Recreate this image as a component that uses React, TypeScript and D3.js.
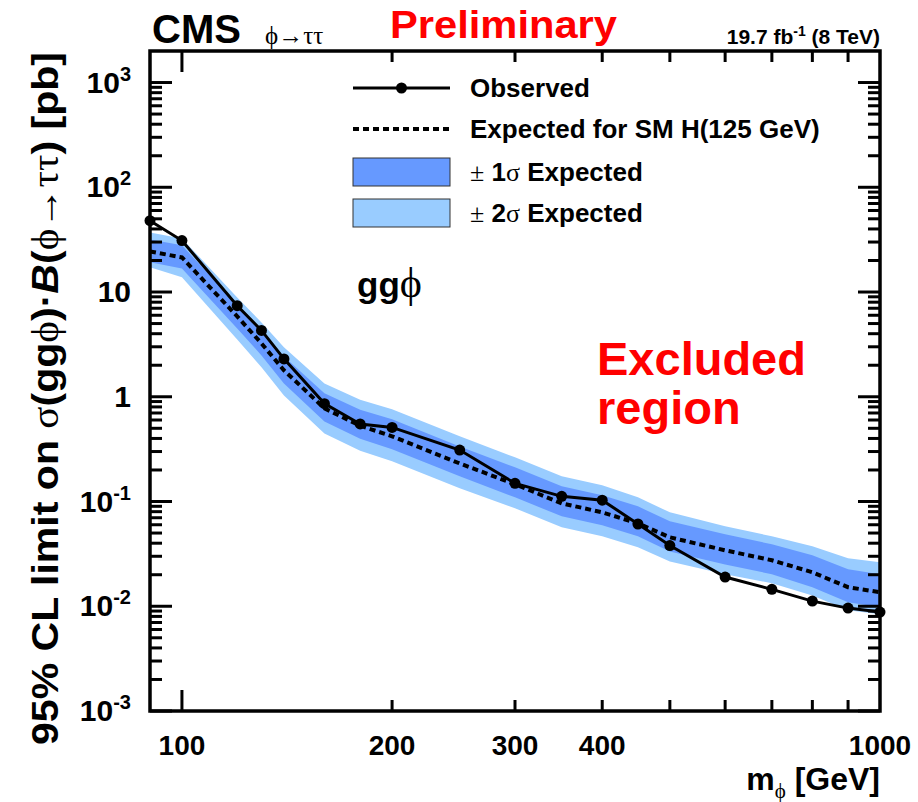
import React, { useEffect, useRef } from "react";
import * as d3 from "d3";

const masses = [90, 100, 120, 130, 140, 160, 180, 200, 250, 300, 350, 400, 450, 500, 600, 700, 800, 900, 1000];
const observed = [48, 31, 7.4, 4.3, 2.3, 0.86, 0.55, 0.51, 0.31, 0.149, 0.112, 0.103, 0.061, 0.038, 0.019, 0.0145, 0.0112, 0.0096, 0.0088];
const expected = [24.4, 21.4, 5.85, 3.23, 1.79, 0.775, 0.53, 0.419, 0.231, 0.146, 0.0961, 0.0788, 0.0619, 0.0455, 0.0342, 0.0275, 0.0211, 0.0152, 0.0136];
const plus2 = [37.0, 32.5, 8.88, 5.12, 2.97, 1.34, 0.939, 0.758, 0.419, 0.264, 0.174, 0.1426, 0.1096, 0.0788, 0.0579, 0.0466, 0.0374, 0.0287, 0.0263];
const plus1 = [31.8, 27.9, 7.62, 4.3, 2.43, 1.08, 0.753, 0.609, 0.336, 0.212, 0.1396, 0.1145, 0.0899, 0.0647, 0.0486, 0.0391, 0.0307, 0.0226, 0.0202];
const minus1 = [19.2, 16.8, 4.49, 2.48, 1.34, 0.582, 0.398, 0.315, 0.174, 0.1096, 0.0722, 0.0592, 0.0465, 0.0334, 0.0251, 0.0202, 0.0152, 0.0109, 0.00978];
const minus2 = [17.2, 13.8, 3.53, 1.91, 1.03, 0.447, 0.306, 0.242, 0.1335, 0.0861, 0.0567, 0.0465, 0.0365, 0.0268, 0.0202, 0.0166, 0.0127, 0.00917, 0.00839];

const xTickLabels = [100, 200, 300, 400, 1000];
const xMinorTicks = [200, 300, 400, 500, 600, 700, 800, 900];
const yDecades = [-3, -2, -1, 0, 1, 2, 3];

const W = 918;
const H = 802;
const frame = { left: 150, right: 880, top: 51, bottom: 711 };
const font = "'Liberation Sans', Arial, Helvetica, sans-serif";
const symFont = "'Liberation Serif', 'DejaVu Serif', serif";

export default function App() {
  const ref = useRef<SVGSVGElement>(null);

  useEffect(() => {
    const svg = d3.select(ref.current);
    svg.selectAll("*").remove();

    const x = d3.scaleLog().domain([90, 1000]).range([frame.left, frame.right]);
    const y = d3.scaleLog().domain([1e-3, 2e3]).range([frame.bottom, frame.top]);

    svg.append("defs").append("clipPath").attr("id", "frameclip")
      .append("rect").attr("x", frame.left).attr("y", frame.top)
      .attr("width", frame.right - frame.left).attr("height", frame.bottom - frame.top);

    const plot = svg.append("g").attr("clip-path", "url(#frameclip)");

    const band = (hi: number[], lo: number[]) =>
      d3.area<number>().x((d) => x(d)).y0((d, i) => y(lo[i])).y1((d, i) => y(hi[i]));

    plot.append("path").datum(masses).attr("d", band(plus2, minus2)).attr("fill", "#99ccff");
    plot.append("path").datum(masses).attr("d", band(plus1, minus1)).attr("fill", "#6699ff");

    const line = (vals: number[]) => d3.line<number>().x((d) => x(d)).y((d, i) => y(vals[i]));

    plot.append("path").datum(masses).attr("d", line(expected))
      .attr("fill", "none").attr("stroke", "#000").attr("stroke-width", 4).attr("stroke-dasharray", "6,4");

    svg.append("path").datum(masses).attr("d", line(observed))
      .attr("fill", "none").attr("stroke", "#000").attr("stroke-width", 3);

    svg.selectAll(".obs").data(masses).join("circle").attr("class", "obs")
      .attr("cx", (d) => x(d)).attr("cy", (d, i) => y(observed[i])).attr("r", 5.5).attr("fill", "#000");

    // frame and ROOT-style ticks
    const axes = svg.append("g").attr("stroke", "#000").attr("stroke-width", 3);
    axes.append("rect").attr("x", frame.left).attr("y", frame.top)
      .attr("width", frame.right - frame.left).attr("height", frame.bottom - frame.top)
      .attr("fill", "none").attr("stroke-width", 3.5);

    const yTicks: { v: number; major: boolean }[] = [];
    yDecades.forEach((k) => {
      yTicks.push({ v: Math.pow(10, k), major: true });
      for (let m = 2; m <= 9; m++) {
        const v = m * Math.pow(10, k);
        if (v < 2e3) yTicks.push({ v, major: false });
      }
    });
    yTicks.forEach((t) => {
      const len = t.major ? 22 : 12;
      axes.append("line").attr("x1", frame.left).attr("x2", frame.left + len).attr("y1", y(t.v)).attr("y2", y(t.v));
      axes.append("line").attr("x1", frame.right).attr("x2", frame.right - len).attr("y1", y(t.v)).attr("y2", y(t.v));
    });

    const xTicks = [{ v: 100, major: true }, ...xMinorTicks.map((v) => ({ v, major: false }))];
    xTicks.forEach((t) => {
      const len = t.major ? 21 : 11;
      axes.append("line").attr("x1", x(t.v)).attr("x2", x(t.v)).attr("y1", frame.bottom).attr("y2", frame.bottom - len);
      axes.append("line").attr("x1", x(t.v)).attr("x2", x(t.v)).attr("y1", frame.top).attr("y2", frame.top + len);
    });

    // tick labels
    svg.selectAll(".xlab").data(xTickLabels).join("text").attr("class", "xlab")
      .attr("x", (d) => x(d)).attr("y", 755).attr("text-anchor", "middle")
      .attr("font-family", font).attr("font-weight", "bold").attr("font-size", 28)
      .text((d) => d);

    yDecades.forEach((k) => {
      const t = svg.append("text").attr("x", 131).attr("y", y(Math.pow(10, k)) + 10)
        .attr("text-anchor", "end").attr("font-family", font).attr("font-weight", "bold").attr("font-size", 30);
      if (k === 0) t.text("1");
      else if (k === 1) t.text("10");
      else {
        t.append("tspan").text("10");
        t.append("tspan").attr("dy", -12).attr("font-size", 20).text(String(k));
      }
    });

    // axis titles
    const xt = svg.append("text").attr("x", 880).attr("y", 790).attr("text-anchor", "end")
      .attr("font-family", font).attr("font-weight", "bold").attr("font-size", 32);
    xt.append("tspan").text("m");
    xt.append("tspan").attr("dy", 8).attr("font-size", 21).attr("font-weight", "normal").attr("font-family", symFont).text("\u03d5");
    xt.append("tspan").attr("dy", -8).text(" [GeV]");

    const yt = svg.append("text").attr("transform", "translate(58,745) rotate(-90)")
      .attr("font-family", font).attr("font-weight", "bold").attr("font-size", 37)
      .attr("textLength", 693).attr("lengthAdjust", "spacingAndGlyphs");
    yt.append("tspan").text("95% CL limit on ");
    yt.append("tspan").attr("font-weight", "normal").attr("font-family", symFont).text("\u03c3");
    yt.append("tspan").text("(gg");
    yt.append("tspan").attr("font-weight", "normal").attr("font-family", symFont).text("\u03d5");
    yt.append("tspan").text(")\u00b7");
    yt.append("tspan").attr("font-style", "italic").text("B");
    yt.append("tspan").text("(");
    yt.append("tspan").attr("font-weight", "normal").attr("font-family", symFont).text("\u03d5\u2192\u03c4\u03c4");
    yt.append("tspan").text(") [pb]");

    // header
    svg.append("text").attr("x", 152).attr("y", 43).attr("font-family", font).attr("font-weight", "bold")
      .attr("font-size", 40).text("CMS");
    svg.append("text").attr("x", 265).attr("y", 44).attr("font-family", symFont).attr("font-size", 25)
      .text("\u03d5\u2192\u03c4\u03c4");
    svg.append("text").attr("x", 390).attr("y", 38).attr("font-family", font).attr("font-weight", "bold")
      .attr("font-size", 38).attr("fill", "#ff0000").attr("textLength", 227).attr("lengthAdjust", "spacingAndGlyphs")
      .text("Preliminary");
    const lumi = svg.append("text").attr("x", 880).attr("y", 44).attr("text-anchor", "end")
      .attr("font-family", font).attr("font-weight", "bold").attr("font-size", 21);
    lumi.append("tspan").text("19.7 fb");
    lumi.append("tspan").attr("dy", -8).attr("font-size", 14).text("-1");
    lumi.append("tspan").attr("dy", 8).text(" (8 TeV)");

    // legend
    const lg = svg.append("g");
    const lx0 = 353;
    const lx1 = 450;
    const tx = 470;
    const rows = [88, 129, 172, 213];
    lg.append("line").attr("x1", lx0).attr("x2", lx1).attr("y1", rows[0]).attr("y2", rows[0])
      .attr("stroke", "#000").attr("stroke-width", 3);
    lg.append("circle").attr("cx", (lx0 + lx1) / 2).attr("cy", rows[0]).attr("r", 5.5).attr("fill", "#000");
    lg.append("line").attr("x1", lx0).attr("x2", lx1).attr("y1", rows[1]).attr("y2", rows[1])
      .attr("stroke", "#000").attr("stroke-width", 4).attr("stroke-dasharray", "6,4");
    lg.append("rect").attr("x", lx0).attr("y", rows[2] - 14).attr("width", lx1 - lx0).attr("height", 28)
      .attr("fill", "#6699ff").attr("stroke", "#333").attr("stroke-width", 1);
    lg.append("rect").attr("x", lx0).attr("y", rows[3] - 14).attr("width", lx1 - lx0).attr("height", 28)
      .attr("fill", "#99ccff").attr("stroke", "#333").attr("stroke-width", 1);

    const ltext = (row: number) => lg.append("text").attr("x", tx).attr("y", row + 9)
      .attr("font-family", font).attr("font-weight", "bold").attr("font-size", 26);
    ltext(rows[0]).text("Observed");
    ltext(rows[1]).text("Expected for SM H(125 GeV)");
    [1, 2].forEach((n, i) => {
      const t = ltext(rows[2 + i]);
      t.append("tspan").attr("font-weight", "normal").attr("font-family", symFont).text("\u00b1");
      t.append("tspan").text(` ${n}`);
      t.append("tspan").attr("font-weight", "normal").attr("font-family", symFont).text("\u03c3");
      t.append("tspan").text(" Expected");
    });

    // annotations
    const gg = svg.append("text").attr("x", 357).attr("y", 297).attr("font-family", font)
      .attr("font-weight", "bold").attr("font-size", 35);
    gg.append("tspan").text("gg");
    gg.append("tspan").attr("font-weight", "normal").attr("font-family", symFont).attr("font-size", 42).text("\u03d5");

    svg.append("text").attr("x", 597).attr("y", 375).attr("font-family", font).attr("font-weight", "bold")
      .attr("font-size", 47).attr("fill", "#ff0000").text("Excluded");
    svg.append("text").attr("x", 597).attr("y", 424).attr("font-family", font).attr("font-weight", "bold")
      .attr("font-size", 47).attr("fill", "#ff0000").text("region");
  }, []);

  return (
    <svg ref={ref} width={W} height={H} style={{ position: "absolute", left: 0, top: 0, background: "#fff" }} />
  );
}
